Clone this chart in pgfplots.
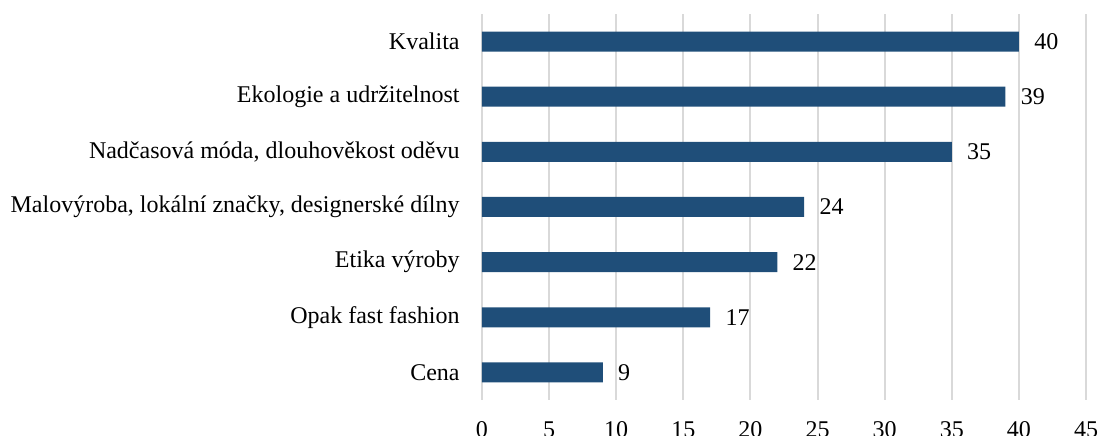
\documentclass[border=0pt]{standalone}
\usepackage{fontspec}
\setmainfont{Liberation Serif}
\usepackage{pgfplots}
\pgfplotsset{compat=1.18}
\definecolor{barblue}{RGB}{31,78,121}
\definecolor{gridgray}{RGB}{217,217,217}
\begin{document}
\fontsize{12}{14}\selectfont
\begin{tikzpicture}
\begin{axis}[
 scale only axis, width=302pt, height=193pt,
 xbar, bar width=10pt,
 xmin=0, xmax=45, ymin=-0.5, ymax=6.5,
 xtick={0,5,...,45},
 ytick={0,...,6},
 yticklabels={Cena, Opak fast fashion, Etika výroby, {Malovýroba, lokální značky, designerské dílny}, {Nadčasová móda, dlouhověkost oděvu}, Ekologie a udržitelnost, Kvalita},
 axis line style={draw=none},
 major tick length=0pt,
 xmajorgrids, grid style={gridgray, line width=1pt},
 nodes near coords,
 nodes near coords style={font=\fontsize{12}{14}\selectfont, anchor=west, inner sep=0pt, xshift=7.5pt, text=black},
 every tick label/.append style={font=\fontsize{12}{14}\selectfont, text=black},
 yticklabel style={inner sep=0pt, xshift=-11pt},
 xticklabel style={inner sep=0pt, yshift=-10.5pt},
 /pgf/number format/assume math mode=true,
]
\addplot[fill=barblue, draw=none] coordinates {(9,0) (17,1) (22,2) (24,3) (35,4) (39,5) (40,6)};
\coordinate (SW) at (rel axis cs:0,0);
\coordinate (NE) at (rel axis cs:1,1);
\end{axis}
\pgfresetboundingbox
\useasboundingbox ([xshift=-241pt,yshift=-18pt]SW) rectangle ([xshift=6.5pt,yshift=7pt]NE);
\end{tikzpicture}
\end{document}
